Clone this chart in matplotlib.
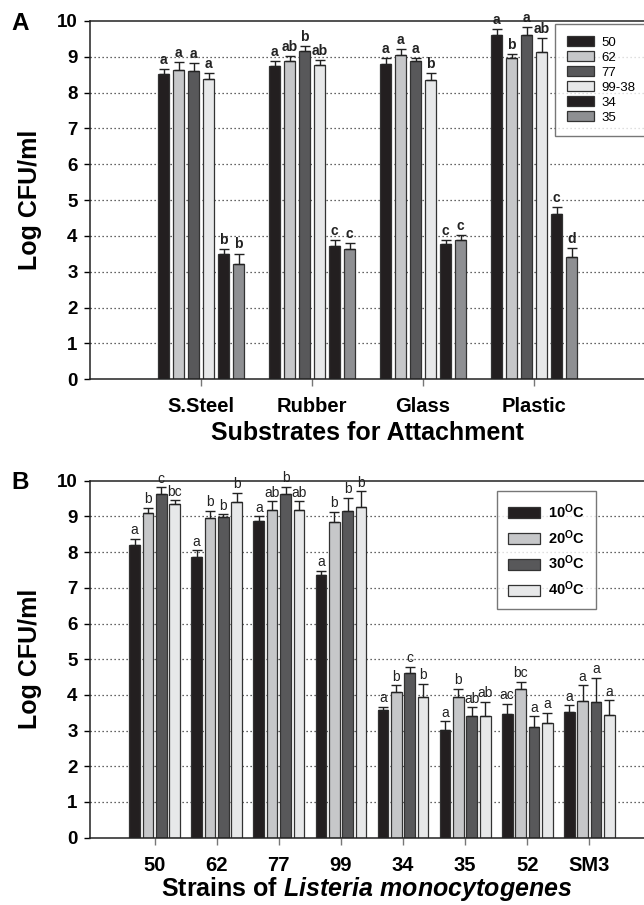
import matplotlib
matplotlib.use("Agg")
import matplotlib.pyplot as plt
import numpy as np

plt.rcParams['font.family'] = ['Liberation Sans', 'DejaVu Sans']
plt.rcParams['mathtext.fontset'] = 'custom'
plt.rcParams['mathtext.rm'] = 'Liberation Sans'
plt.rcParams['mathtext.bf'] = 'Liberation Sans:bold'
plt.rcParams['mathtext.it'] = 'Liberation Sans:italic:bold'

# ---------------- Panel A data ----------------
substrates = ["S.Steel", "Rubber", "Glass", "Plastic"]
strains_a = ["50", "62", "77", "99-38", "34", "35"]
a_50 = [8.52, 8.73, 8.81, 9.62]
a_62 = [8.62, 8.89, 9.06, 8.97]
a_77 = [8.60, 9.15, 8.89, 9.62]
a_9938 = [8.39, 8.76, 8.36, 9.14]
a_34 = [3.49, 3.71, 3.77, 4.62]
a_35 = [3.23, 3.63, 3.88, 3.42]
a_err_50 = [0.14, 0.14, 0.16, 0.16]
a_err_62 = [0.23, 0.13, 0.16, 0.11]
a_err_77 = [0.22, 0.15, 0.08, 0.22]
a_err_9938 = [0.15, 0.14, 0.19, 0.38]
a_err_34 = [0.15, 0.18, 0.12, 0.18]
a_err_35 = [0.28, 0.17, 0.14, 0.24]
a_let_50 = ["a", "a", "a", "a"]
a_let_62 = ["a", "ab", "a", "b"]
a_let_77 = ["a", "b", "a", "a"]
a_let_9938 = ["a", "ab", "b", "ab"]
a_let_34 = ["b", "c", "c", "c"]
a_let_35 = ["b", "c", "c", "d"]

# ---------------- Panel B data ----------------
strains_b = ["50", "62", "77", "99", "34", "35", "52", "SM3"]
temps = ["10", "20", "30", "40"]
b_10 = [8.20, 7.85, 8.88, 7.36, 3.58, 3.02, 3.46, 3.53]
b_20 = [9.09, 8.95, 9.17, 8.83, 4.07, 3.95, 4.16, 3.82]
b_30 = [9.62, 8.97, 9.62, 9.15, 4.61, 3.41, 3.11, 3.79]
b_40 = [9.35, 9.40, 9.18, 9.26, 3.94, 3.41, 3.20, 3.44]
b_err_10 = [0.18, 0.21, 0.12, 0.12, 0.09, 0.25, 0.29, 0.18]
b_err_20 = [0.15, 0.21, 0.26, 0.30, 0.21, 0.22, 0.21, 0.46]
b_err_30 = [0.20, 0.10, 0.21, 0.38, 0.18, 0.24, 0.30, 0.69]
b_err_40 = [0.11, 0.27, 0.24, 0.45, 0.37, 0.40, 0.30, 0.41]
b_let_10 = ["a", "a", "a", "a", "a", "a", "ac", "a"]
b_let_20 = ["b", "b", "ab", "b", "b", "b", "bc", "a"]
b_let_30 = ["c", "b", "b", "b", "c", "ab", "a", "a"]
b_let_40 = ["bc", "b", "ab", "b", "b", "ab", "a", "a"]

col_black = "#231f20"
col_light = "#c6c7c9"
col_dark = "#58585a"
col_vlight = "#e7e8e9"
col_mid = "#8e8f92"
edge = "#333333"

fig = plt.figure(figsize=(6.44, 9.05), dpi=100)
axA = fig.add_axes([0.1398, 0.5809, 0.8602, 0.3959])
axB = fig.add_axes([0.1398, 0.0744, 0.8602, 0.3944])


def style_axis(ax):
    ax.set_ylim(0, 10)
    ax.set_yticks(range(0, 11))
    for y in range(1, 10):
        ax.axhline(y, color="#333333", linestyle=(0, (1, 2.2)), linewidth=0.9, zorder=0)
    for s in ["left", "bottom", "top"]:
        ax.spines[s].set_linewidth(1.1)
        ax.spines[s].set_color("#222222")
    ax.spines["right"].set_visible(False)
    ax.tick_params(axis="y", direction="out", length=4, width=1, labelsize=13.5, pad=5)
    ax.tick_params(axis="x", direction="out", length=5, width=1, color="#777777",
                   labelsize=14.5, pad=8)
    for lab in ax.get_yticklabels() + ax.get_xticklabels():
        lab.set_fontweight("bold")
    ax.set_ylabel("Log CFU/ml", fontsize=18, fontweight="bold", labelpad=11)


# ---------------- Panel A ----------------
series_a = [a_50, a_62, a_77, a_9938, a_34, a_35]
errs_a = [a_err_50, a_err_62, a_err_77, a_err_9938, a_err_34, a_err_35]
lets_a = [a_let_50, a_let_62, a_let_77, a_let_9938, a_let_34, a_let_35]
cols_a = [col_black, col_light, col_dark, col_vlight, col_black, col_mid]
xa = np.arange(len(substrates))
step_a = 0.135
w_a = 0.099
for i, (vals, errs, lets, c, name) in enumerate(zip(series_a, errs_a, lets_a, cols_a, strains_a)):
    pos = xa + (i - 2.5) * step_a
    axA.bar(pos, vals, width=w_a, color=c, edgecolor=edge, linewidth=0.9, label=name, zorder=2)
    axA.errorbar(pos, vals, yerr=[np.zeros(len(vals)), errs], fmt="none", ecolor="#222222",
                 elinewidth=1, capsize=3.6, capthick=1, zorder=3)
    for p, v, e, l in zip(pos, vals, errs, lets):
        axA.annotate(l, (p, v + e), xytext=(0, 1.5), textcoords="offset points",
                     ha="center", va="bottom", fontsize=10, fontweight="bold", color="#222222")
axA.set_xlim(-1.0, 3.99)
axA.set_xticks(xa)
axA.set_xticklabels(substrates)
style_axis(axA)
axA.set_xlabel("Substrates for Attachment", fontsize=18, fontweight="bold", labelpad=3)
legA = axA.legend(loc="upper left", bbox_to_anchor=(0.839, 0.991), fontsize=9.5,
                  frameon=True, fancybox=False, handlelength=2.1, handleheight=0.75,
                  labelspacing=0.2, borderpad=0.9, handletextpad=0.5, borderaxespad=0)
legA.get_frame().set_edgecolor("#555555")
legA.get_frame().set_linewidth(1)
fig.text(0.018, 0.974, "A", fontsize=17.5, fontweight="bold", va="center", ha="left")

# ---------------- Panel B ----------------
series_b = [b_10, b_20, b_30, b_40]
errs_b = [b_err_10, b_err_20, b_err_30, b_err_40]
lets_b = [b_let_10, b_let_20, b_let_30, b_let_40]
cols_b = [col_black, col_light, col_dark, col_vlight]
xb = np.arange(len(strains_b))
step_b = 0.215
w_b = 0.172
for i, (vals, errs, lets, c, t) in enumerate(zip(series_b, errs_b, lets_b, cols_b, temps)):
    pos = xb + (i - 1.5) * step_b
    axB.bar(pos, vals, width=w_b, color=c, edgecolor=edge, linewidth=0.9,
            label=t + r"$^{\mathbf{O}}$C", zorder=2)
    axB.errorbar(pos, vals, yerr=[np.zeros(len(vals)), errs], fmt="none", ecolor="#222222",
                 elinewidth=1, capsize=3.6, capthick=1, zorder=3)
    for p, v, e, l in zip(pos, vals, errs, lets):
        axB.annotate(l, (p, v + e), xytext=(0, 1), textcoords="offset points",
                     ha="center", va="bottom", fontsize=10, color="#222222")
axB.set_xlim(-1.04, 7.88)
axB.set_xticks(xb)
axB.set_xticklabels(strains_b)
style_axis(axB)
axB.set_xlabel(r"Strains of $\it{Listeria\ monocytogenes}$", fontsize=18,
               fontweight="bold", labelpad=0)
legB = axB.legend(loc="upper left", bbox_to_anchor=(0.734, 0.971),
                  prop={"size": 10.5, "weight": "bold"},
                  frameon=True, fancybox=False, handlelength=2.25, handleheight=0.75,
                  labelspacing=0.5, borderpad=0.75, handletextpad=0.55, borderaxespad=0)
legB.get_frame().set_edgecolor("#555555")
legB.get_frame().set_linewidth(1)
fig.text(0.018, 0.467, "B", fontsize=17.5, fontweight="bold", va="center", ha="left")

fig.savefig("out.png", dpi=100)
